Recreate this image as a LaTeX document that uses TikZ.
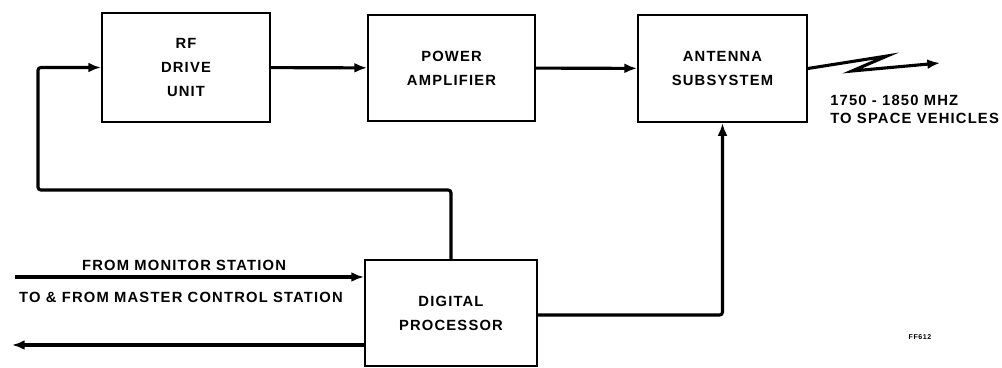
\documentclass[tikz,border=0pt]{standalone}
\usepackage{fontspec}
\newfontfamily\diagfont{Liberation Sans}[LetterSpace=8]
\usetikzlibrary{arrows.meta}

\tikzset{
  unitbox/.style={draw, line width=1.4pt, align=center, font=\diagfont\bfseries\fontsize{10.5}{17}\selectfont},
  sigline/.style={line width=2.2pt, -{Latex[length=9pt,width=7pt]}},
  lbl/.style={font=\diagfont\bfseries\fontsize{10.5}{14}\selectfont, inner sep=0pt}
}

\begin{document}
\begin{tikzpicture}[x={(0.025cm,0)},y={(0,-0.025cm)}]
  \useasboundingbox (0,0) rectangle (1002,368);
  % blocks
  \node[unitbox, minimum width=4.2cm, minimum height=2.72cm] (rf) at (186,67.5) {RF\\DRIVE\\UNIT};
  \node[unitbox, minimum width=4.17cm, minimum height=2.65cm] (pa) at (451.5,68) {POWER\\AMPLIFIER};
  \node[unitbox, minimum width=4.22cm, minimum height=2.68cm] (ant) at (722.5,68.5) {ANTENNA\\SUBSYSTEM};
  \node[unitbox, minimum width=4.3cm, minimum height=2.65cm] (dp) at (451,313) {DIGITAL\\PROCESSOR};

  % forward chain
  \draw[sigline] (rf) -- (pa);
  \draw[sigline] (pa) -- (ant);

  % feedback to drive unit
  \coordinate (fbtop) at (38,67.5);
  \draw[sigline, rounded corners=2pt] (dp.north) |- (38,190) -- (fbtop) -- (rf.west);

  % processor to antenna
  \draw[sigline, rounded corners=2pt] (dp.east |- 0,315) -| (ant.south);

  % radio link
  \coordinate (lk1) at (887,56);
  \coordinate (lk2) at (852,71);
  \coordinate (lkend) at (940,63);
  \draw[sigline] (ant.east) -- (lk1) -- (lk2) -- (lkend);
  \node[lbl, anchor=west] (freq) at (830,100) {1750 - 1850 MHZ};
  \node[lbl, anchor=west] (veh) at (830,118) {TO SPACE VEHICLES};

  % station links
  \coordinate (mon) at (15,277);
  \coordinate (mcs) at (12,345);
  \draw[sigline] (mon) -- (mon -| dp.west);
  \draw[sigline] (mcs -| dp.west) -- (mcs);
  \node[lbl] (monlbl) at (184,265) {FROM MONITOR STATION};
  \node[lbl] (mcslbl) at (181,297) {TO \& FROM MASTER CONTROL STATION};

  \node[lbl, font=\diagfont\bfseries\fontsize{5}{6}\selectfont] (fig) at (920,337) {FF612};
\end{tikzpicture}
\end{document}
